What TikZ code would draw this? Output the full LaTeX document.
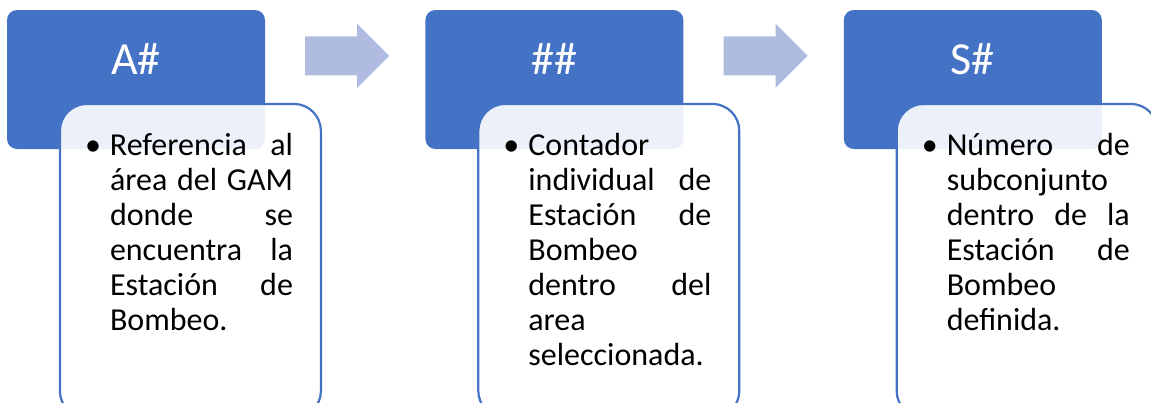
\documentclass[tikz,border=0pt]{standalone}
\usepackage{fontspec}
\setmainfont{Carlito}
\usetikzlibrary{calc}
\usetikzlibrary{positioning}

\definecolor{hdrblue}{HTML}{4472C4}
\definecolor{flowblue}{HTML}{AFBCDF}

\begin{document}
\begin{tikzpicture}[
        x=1pt, y=1pt,
        header/.style={rectangle, rounded corners=10pt, fill=hdrblue, minimum width=258pt, minimum height=139pt, inner sep=0pt},
        hdrtext/.style={anchor=base, text=white, font=\fontsize{46}{54}\selectfont, inner sep=0pt},
        detail/.style={rectangle, rounded corners=27pt, draw=hdrblue, line width=2.2pt, fill=white, fill opacity=0.9, draw opacity=1, minimum width=261pt, minimum height=314pt, inner sep=0pt, anchor=north west},
        bullettext/.style={anchor=north west, inner sep=0pt, text width=183pt, font=\fontsize{32}{35}\selectfont},
        flow/.style={fill=flowblue},
    ]

    \useasboundingbox (0,0) rectangle (1151,-402);

    \def \gap {160pt};

    % Header boxes
    \node[header] (H1) at (136,-79.5) {};
    \node[header, right=\gap of H1] (H2) {};
    \node[header, right=\gap of H2] (H3) {};

    \node[hdrtext] (L1) at ($(H1.north)+(0,-65)$) {A\#};
    \node[hdrtext] (L2) at ($(H2.north)+(0,-65)$) {\#\#};
    \node[hdrtext] (L3) at ($(H3.north)+(0,-65)$) {S\#};

    % Arrows between the steps
    \coordinate (A1) at ($(H1.north east)!0.5!(H2.north west)+(2,-46)$);
    \coordinate (A2) at ($(H2.north east)!0.5!(H3.north west)+(2,-46)$);

    \fill[flow, shift={(A1)}] (-42,19.5) -- (10,19.5) -- (10,32) -- (42,0) -- (10,-32) -- (10,-19.5) -- (-42,-19.5) -- cycle;
    \fill[flow, shift={(A2)}] (-42,19.5) -- (10,19.5) -- (10,32) -- (42,0) -- (10,-32) -- (10,-19.5) -- (-42,-19.5) -- cycle;

    % Detail boxes, laid over the headers
    \node[detail] (D1) at ($(H1.north west)+(52,-93)$) {};
    \node[detail] (D2) at ($(H2.north west)+(52,-93)$) {};
    \node[detail] (D3) at ($(H3.north west)+(52,-93)$) {};

    \node[bullettext] (T1) at ($(D1.north west)+(51,-28)$) {\strut\llap{\textbullet\hspace{9pt}}Referencia\hfill al\\
        área\hfill del\hfill GAM\\
        donde\hfill se\\
        encuentra\hfill la\\
        Estación\hfill de\\
        Bombeo.};

    \node[bullettext] (T2) at ($(D2.north west)+(51,-28)$) {\strut\llap{\textbullet\hspace{9pt}}Contador\\
        individual\hfill de\\
        Estación\hfill de\\
        Bombeo\\
        dentro\hfill del\\
        area\\
        seleccionada.};

    \node[bullettext] (T3) at ($(D3.north west)+(51,-28)$) {\strut\llap{\textbullet\hspace{9pt}}Número\hfill de\\
        subconjunto\\
        dentro\hfill de\hfill la\\
        Estación\hfill de\\
        Bombeo\\
        definida.};
\end{tikzpicture}
\end{document}
